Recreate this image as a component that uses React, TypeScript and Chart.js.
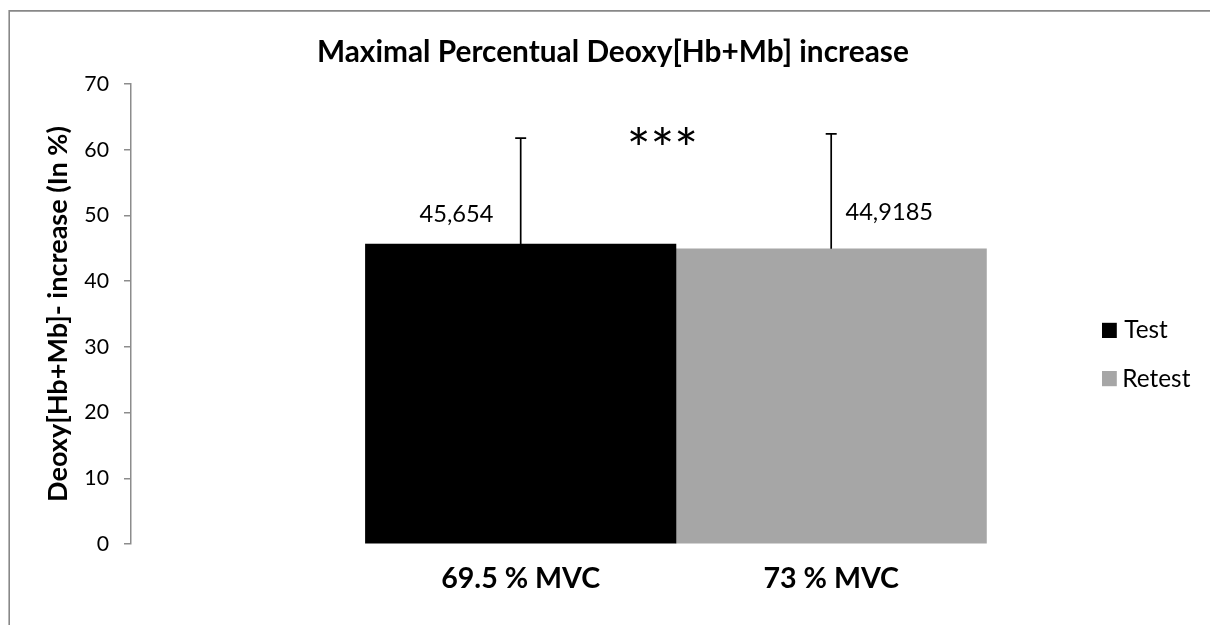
import React, { useEffect, useRef } from 'react';
import { Chart, registerables } from 'chart.js';

Chart.register(...registerables);

// ---------- data ----------
const CATEGORIES = ['69.5 % MVC', '73 % MVC'];
const SERIES = ['Test', 'Retest'];
const MEANS = [45.654, 44.9185];
const SDS = [16.1, 17.5];
const Y_MIN = 0;
const Y_MAX = 70;
const Y_STEP = 10;
const TITLE = 'Maximal Percentual Deoxy[Hb+Mb] increase';
const Y_TITLE = 'Deoxy[Hb+Mb]- increase (In %)';
const SIG_TEXT = '***';

// ---------- style ----------
const COLORS = ['#000000', '#A6A6A6'];
const FAMILY = 'Lato, "Open Sans", sans-serif';
const AXIS_GRAY = '#8c8c8c';
const W = 1210;
const H = 625;
const PLOT_TOP = 84;
const PLOT_BOTTOM = 544;
const PLOT_LEFT = 131;
const PLOT_RIGHT = 1141.7;
const X_MIN = -0.255;
const X_MAX = 3;
// label offsets relative to bar centre / bar top (px)
const LABEL_DX = [-64, 57.7];
const LABEL_DY = [-21.5, -28.8];

const mctx = (typeof document !== 'undefined' ? document.createElement('canvas').getContext('2d') : null) as CanvasRenderingContext2D;

function fontStr(weight: string, size: number) {
  return `${weight} ${size}px ${FAMILY}`;
}
function ink(text: string, font: string, baseline: CanvasTextBaseline = 'alphabetic') {
  mctx.font = font;
  mctx.textAlign = 'left';
  mctx.textBaseline = baseline;
  const m = mctx.measureText(text);
  return { l: m.actualBoundingBoxLeft, r: m.actualBoundingBoxRight, a: m.actualBoundingBoxAscent, d: m.actualBoundingBoxDescent };
}
function fit(text: string, weight: string, target: number) {
  const m = ink(text, fontStr(weight, 100));
  return (100 * target) / (m.l + m.r);
}
function drawInk(ctx: CanvasRenderingContext2D, text: string, font: string, cx: number, y: number, vmode: 'baseline' | 'center', hmode: 'center' | 'left' = 'center') {
  ctx.font = font;
  ctx.textAlign = 'left';
  ctx.textBaseline = 'alphabetic';
  const m = ctx.measureText(text);
  const l = m.actualBoundingBoxLeft;
  const r = m.actualBoundingBoxRight;
  const x0 = hmode === 'center' ? cx - (r - l) / 2 : cx + l;
  const y0 = vmode === 'baseline' ? y : y + (m.actualBoundingBoxAscent - m.actualBoundingBoxDescent) / 2;
  ctx.fillText(text, x0, y0);
}

export default function App() {
  const ref = useRef<HTMLCanvasElement>(null);

  useEffect(() => {
    const canvas = ref.current!;

    const titleSize = fit(TITLE, 'bold', 589);
    const yTitleSize = fit(Y_TITLE, 'bold', 373);
    const xLabelSize = fit(CATEGORIES[0], 'bold', 157.6);
    const tickSize = fit('70', 'normal', 23);
    const dataSize = fit('44,9185', 'normal', 86);
    const legendSize = fit('Retest', 'normal', 65.7);
    const sigSize = fit(SIG_TEXT, 'normal', 65);

    // x tick padding so the cap centre lands at ~577.5
    const xm = ink('MVC', fontStr('bold', xLabelSize), 'middle');
    const xPad = 577.5 - PLOT_BOTTOM - 0.6 * xLabelSize - (xm.d - xm.a) / 2;
    // y title padding so the cap centre lands at x ~57.5
    const ym = ink('D', fontStr('bold', yTitleSize), 'middle');
    const yTitlePad = 57.5 - (ym.d - ym.a) / 2 - 0.6 * yTitleSize;

    const datasets = SERIES.map((name, i) => ({
      label: name,
      data: [{ x: i + 1, y: MEANS[i] }],
      backgroundColor: COLORS[i],
      borderWidth: 0,
      grouped: false,
      categoryPercentage: 1,
      barPercentage: 1,
    }));

    const framePlugin = {
      id: 'frame',
      beforeDraw(chart: any) {
        const ctx = chart.ctx;
        ctx.save();
        ctx.fillStyle = '#ffffff';
        ctx.fillRect(0, 0, W, H);
        ctx.strokeStyle = '#888888';
        ctx.lineWidth = 1.6;
        ctx.beginPath();
        ctx.moveTo(9.2, H + 5);
        ctx.lineTo(9.2, 10.9);
        ctx.lineTo(W + 5, 10.9);
        ctx.stroke();
        ctx.restore();
      },
    };

    const decorPlugin = {
      id: 'decor',
      afterDatasetsDraw(chart: any) {
        const ctx = chart.ctx;
        const yScale = chart.scales.y;
        ctx.save();
        chart.data.datasets.forEach((ds: any, i: number) => {
          const meta = chart.getDatasetMeta(i);
          const el = meta.data[0];
          if (!el) return;
          const x = el.x;
          const yTop = yScale.getPixelForValue(MEANS[i]);
          const yErr = yScale.getPixelForValue(MEANS[i] + SDS[i]);
          // error bar
          ctx.strokeStyle = '#000000';
          ctx.lineWidth = 1.7;
          ctx.beginPath();
          ctx.moveTo(x, yTop);
          ctx.lineTo(x, yErr);
          ctx.moveTo(x - 5.5, yErr);
          ctx.lineTo(x + 5.5, yErr);
          ctx.stroke();
          // value label
          ctx.fillStyle = '#000000';
          const txt = String(MEANS[i]).replace('.', ',');
          drawInk(ctx, txt, fontStr('normal', dataSize), x + LABEL_DX[i], yTop + LABEL_DY[i], 'baseline');
        });
        ctx.restore();
      },
      afterDraw(chart: any) {
        const ctx = chart.ctx;
        ctx.save();
        ctx.fillStyle = '#000000';
        // title
        drawInk(ctx, TITLE, fontStr('bold', titleSize), 613.4, 61.7, 'baseline');
        // significance stars
        drawInk(ctx, SIG_TEXT, fontStr('normal', sigSize), 662.5, 135, 'center');
        // legend
        chart.data.datasets.forEach((ds: any, i: number) => {
          const cy = 330.3 + i * 48.2;
          ctx.fillStyle = ds.backgroundColor;
          ctx.fillRect(1102, cy - 7.5, 14.8, 15.2);
          ctx.fillStyle = '#000000';
          drawInk(ctx, ds.label, fontStr('normal', legendSize), 1124.3, cy + 8, 'baseline', 'left');
        });
        ctx.restore();
      },
    };

    const chart = new Chart(canvas, {
      type: 'bar',
      data: { datasets: datasets as any },
      options: {
        animation: false,
        responsive: false,
        devicePixelRatio: 1,
        events: [],
        layout: { padding: { top: PLOT_TOP, right: W - PLOT_RIGHT, bottom: 0, left: 0 } },
        plugins: {
          legend: { display: false },
          title: { display: false },
          tooltip: { enabled: false },
        },
        scales: {
          x: {
            type: 'linear',
            min: X_MIN,
            max: X_MAX,
            offset: false,
            grid: { display: false, drawTicks: false, offset: false },
            border: { display: false },
            afterBuildTicks: (scale: any) => {
              scale.ticks = CATEGORIES.map((_, i) => ({ value: i + 1 }));
            },
            afterFit: (scale: any) => {
              scale.height = H - PLOT_BOTTOM;
            },
            ticks: {
              autoSkip: false,
              maxRotation: 0,
              minRotation: 0,
              padding: xPad,
              color: '#000000',
              font: { family: FAMILY, size: xLabelSize, weight: 'bold' },
              callback: (v: any) => CATEGORIES[Math.round(Number(v)) - 1] ?? '',
            },
          },
          y: {
            type: 'linear',
            min: Y_MIN,
            max: Y_MAX,
            afterFit: (scale: any) => {
              scale.width = PLOT_LEFT;
            },
            ticks: {
              stepSize: Y_STEP,
              padding: 15,
              color: '#000000',
              font: { family: FAMILY, size: tickSize },
            },
            grid: {
              drawOnChartArea: false,
              drawTicks: true,
              tickLength: 7,
              color: AXIS_GRAY,
              lineWidth: 1.5,
            },
            border: { display: true, color: AXIS_GRAY, width: 1.5 },
            title: {
              display: true,
              text: Y_TITLE,
              color: '#000000',
              font: { family: FAMILY, size: yTitleSize, weight: 'bold' },
              padding: { top: yTitlePad, bottom: 0 },
            },
          },
        },
      } as any,
      plugins: [framePlugin, decorPlugin],
    });

    return () => chart.destroy();
  }, []);

  return (
    <div style={{ position: 'fixed', left: 0, top: 0, width: W, height: H, background: '#ffffff', overflow: 'hidden' }}>
      <canvas ref={ref} width={W} height={H} style={{ display: 'block', width: W, height: H }} />
    </div>
  );
}
